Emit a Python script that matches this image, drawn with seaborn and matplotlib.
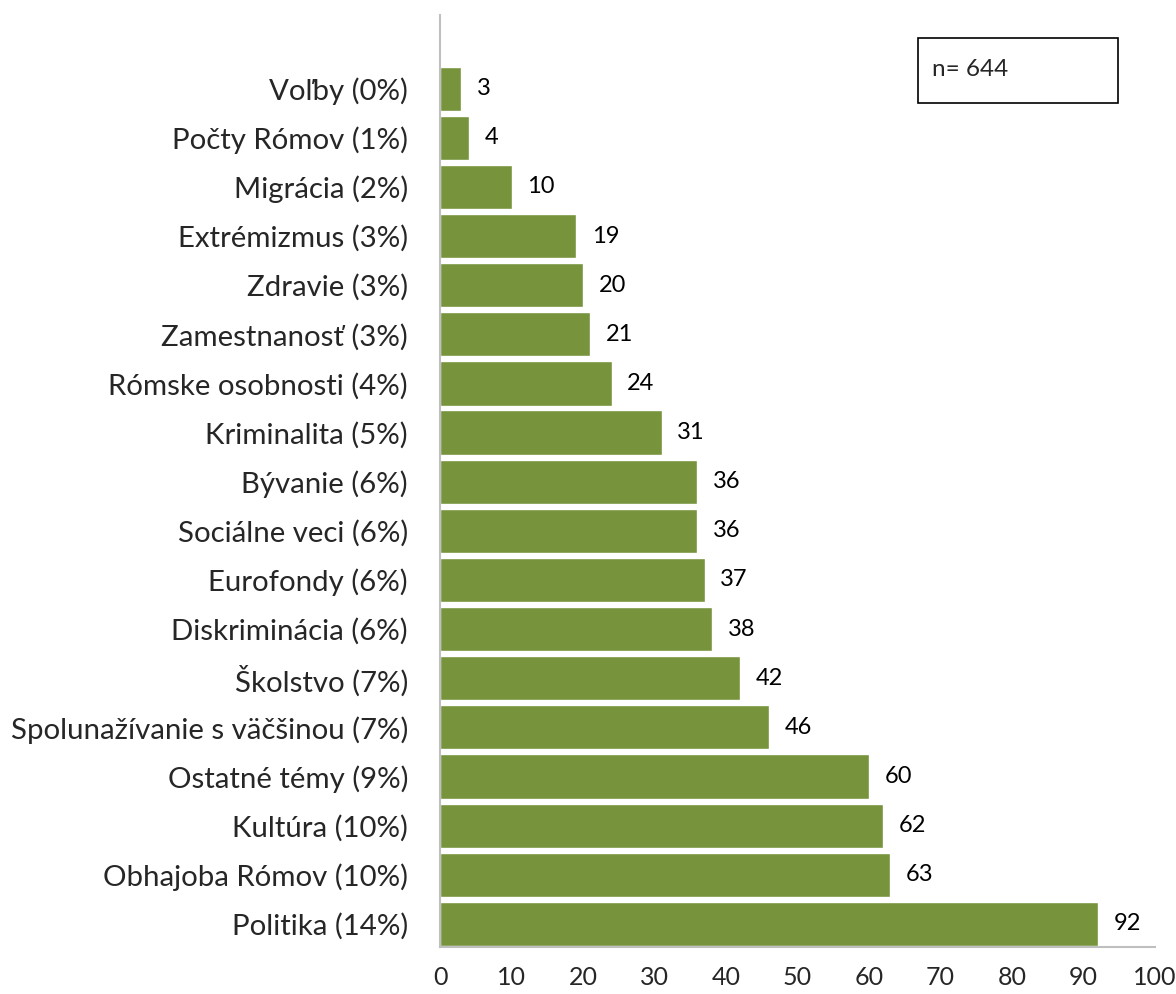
import matplotlib
matplotlib.use('Agg')
import matplotlib.pyplot as plt
import seaborn as sns
import pandas as pd
from matplotlib.patches import Rectangle

# Data
temy = ['Voľby (0%)', 'Počty Rómov (1%)', 'Migrácia (2%)', 'Extrémizmus (3%)',
        'Zdravie (3%)', 'Zamestnanosť (3%)', 'Rómske osobnosti (4%)',
        'Kriminalita (5%)', 'Bývanie (6%)', 'Sociálne veci (6%)',
        'Eurofondy (6%)', 'Diskriminácia (6%)', 'Školstvo (7%)',
        'Spolunažívanie s väčšinou (7%)', 'Ostatné témy (9%)',
        'Kultúra (10%)', 'Obhajoba Rómov (10%)', 'Politika (14%)']
pocty = [3, 4, 10, 19, 20, 21, 24, 31, 36, 36, 37, 38, 42, 46, 60, 62, 63, 92]
x_ticks = [0, 10, 20, 30, 40, 50, 60, 70, 80, 90, 100]
n_text = 'n= 644'

df = pd.DataFrame({'tema': temy, 'pocet': pocty})

sns.set_style('white')
plt.rcParams['font.family'] = ['Lato', 'DejaVu Sans']

fig = plt.figure(figsize=(11.76, 9.94), dpi=100)
ax = fig.add_axes([440/1176, 1 - 947/994, (1155 - 440)/1176, (947 - 15)/994])

sns.barplot(data=df, x='pocet', y='tema', color='#77933C', saturation=1,
            width=0.9, edgecolor='white', linewidth=1, ax=ax)

# hodnoty vedla stlpcov
for i, v in enumerate(pocty):
    ax.text(v + 2.2, i, str(v), va='center', ha='left', fontsize=17, color='black')

ax.set_xlim(0, 100)
ax.set_ylim(17.47, -1.5)
ax.set_xticks(x_ticks)
ax.set_xticklabels([str(t) for t in x_ticks], fontsize=18)
ax.tick_params(axis='y', labelsize=21.2, length=0, pad=23)
ax.tick_params(axis='x', length=0, pad=14)
ax.set_xlabel('')
ax.set_ylabel('')

for s in ['top', 'right']:
    ax.spines[s].set_visible(False)
for s in ['left', 'bottom']:
    ax.spines[s].set_color('#BFBFBF')
    ax.spines[s].set_linewidth(1.5)

# ramik s poctom
fig.patches.append(Rectangle((918/1176, 1 - 103/994), 200/1176, 65/994,
                             transform=fig.transFigure, fill=False,
                             edgecolor='black', linewidth=1.2))
fig.text(932/1176, 1 - 70/994, n_text, fontsize=17.5, va='center', ha='left')

fig.savefig('out.png', dpi=100)
